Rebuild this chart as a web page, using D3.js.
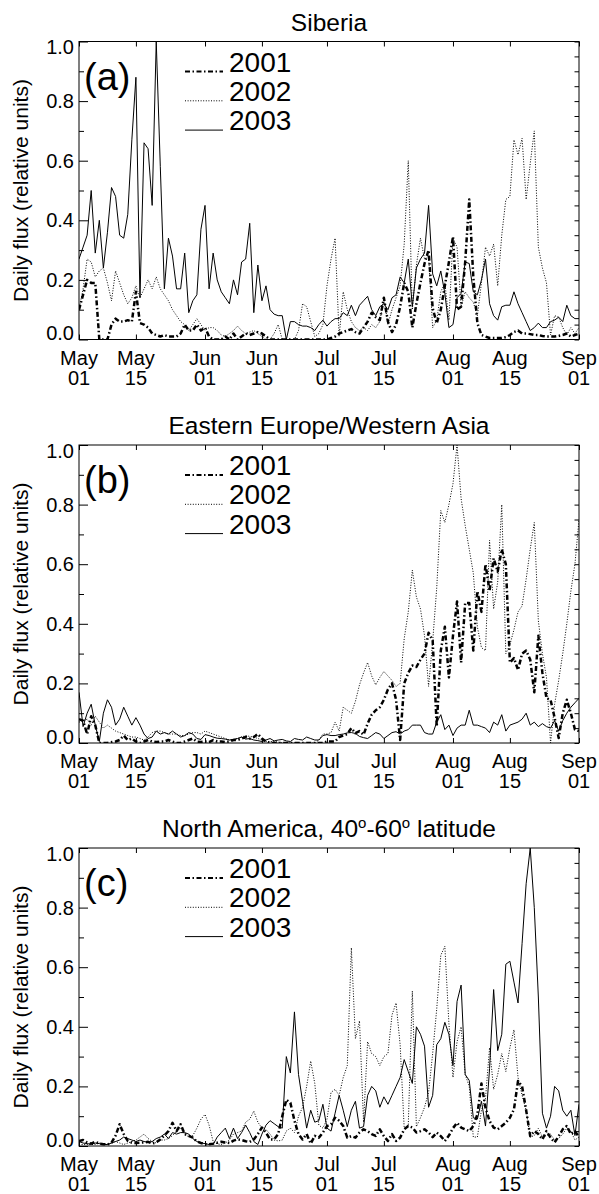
<!DOCTYPE html>
<html>
<head>
<meta charset="utf-8">
<script src="https://cdn.jsdelivr.net/npm/d3@7"></script>
<style>
  body { margin: 0; background: #fff; }
  text { font-family: "Liberation Sans", Arial, Helvetica, sans-serif; fill: #000; }
</style>
</head>
<body>
<svg id="chart" width="599" height="1194"></svg>
<script>

// ---- data: daily flux, May 01 .. Sep 01 (124 days) ----
var years = ['2001', '2002', '2003'];
var panelTags = ['(a)', '(b)', '(c)'];
var tickDates = ['2003-05-01', '2003-05-15', '2003-06-01', '2003-06-15', '2003-07-01',
                 '2003-07-15', '2003-08-01', '2003-08-15', '2003-09-01'];
var yMajor = [0, 0.2, 0.4, 0.6, 0.8, 1.0];
var yMinor = [0.1, 0.3, 0.5, 0.7, 0.9];

var siberia2001 = [0.10,0.15,0.20,0.19,0.19,0,0,0,0.05,0.07,
  0.06,0.06,0.065,0.06,0.16,0.055,0.05,0.04,0.02,0.015,
  0.01,0.015,0.01,0.01,0.01,0.02,0.05,0.03,0.03,0.05,
  0.03,0.04,0.01,0,0,0,0.01,0,0.02,0,
  0.01,0.02,0.015,0.02,0.025,0.02,0.01,0,0,0,
  0,0,0,0,0,0,0,0,0,0,
  0,0,0.005,0.01,0.02,0.025,0.03,0.035,0.025,0.02,
  0.04,0.06,0.09,0.075,0.065,0.14,0.06,0.025,0.05,0.11,
  0.19,0.16,0.04,0.12,0.19,0.255,0.30,0.105,0.055,0.10,
  0.18,0.26,0.345,0.10,0.11,0.26,0.47,0.21,0.055,0.015,
  0.01,0.005,0.005,0.005,0.005,0.008,0.015,0.025,0.03,0.02,
  0.02,0.018,0.015,0.015,0.012,0.01,0.01,0.01,0.012,0.015,
  0.02,0.01,0.015,0.02];
var siberia2002 = [0.10,0.17,0.27,0.26,0.21,0.23,0.24,0.19,0.13,0.23,
  0.19,0.15,0.12,0.14,0.18,0.14,0.17,0.20,0.17,0.21,
  0.17,0.15,0.13,0.10,0.08,0.06,0.05,0.03,0.05,0.07,
  0.05,0.03,0.04,0.04,0.03,0.015,0.01,0.02,0.03,0.045,
  0.03,0.02,0.025,0.03,0.02,0.01,0,0,0.02,0.05,
  0,0,0,0,0.03,0.12,0.11,0.06,0.01,0.02,
  0.05,0.18,0.27,0.34,0.01,0.16,0.10,0.06,0.04,0.03,
  0.04,0.03,0.05,0.04,0.06,0.14,0.05,0.10,0.14,0.18,
  0.32,0.60,0.10,0.25,0.34,0.27,0.28,0.04,0.065,0.16,
  0.19,0.065,0.34,0.31,0.11,0.16,0.14,0.125,0.08,0.19,
  0.31,0.28,0.32,0.18,0.35,0.47,0.48,0.67,0.62,0.675,
  0.47,0.59,0.70,0.31,0.24,0.19,0.015,0.08,0.075,0.04,
  0.015,0.04,0.02,0.04];
var siberia2003 = [0.27,0.31,0.35,0.50,0.29,0.40,0.24,0.36,0.51,0.48,
  0.35,0.34,0.42,0.67,0.88,0.14,0.66,0.64,0.45,1.00,
  0.58,0.17,0.34,0.28,0.17,0.17,0.29,0.09,0.13,0.15,
  0.37,0.45,0.17,0.29,0.20,0.16,0.14,0.12,0.20,0.15,
  0.26,0.27,0.39,0.09,0.25,0.13,0.18,0.10,0.085,0.08,
  0.08,0.00,0.06,0.06,0.05,0.045,0.045,0.04,0.03,0.05,
  0.065,0.045,0.06,0.07,0.07,0.09,0.08,0.115,0.08,0.115,
  0.13,0.145,0.10,0.08,0.11,0.12,0.10,0.14,0.15,0.21,
  0.19,0.27,0.11,0.24,0.27,0.29,0.45,0.22,0.18,0.23,
  0.155,0.04,0.05,0.14,0.155,0.26,0.255,0.16,0.15,0.20,
  0.27,0.12,0.08,0.065,0.11,0.115,0.115,0.16,0.12,0.09,
  0.06,0.03,0.04,0.055,0.04,0.04,0.06,0.065,0.075,0.06,
  0.115,0.08,0.07,0.07];

var europe2001 = [0.08,0.075,0.03,0.09,0.06,0,0,0,0.003,0.005,
  0.01,0.025,0.01,0.015,0.005,0,0.005,0.01,0.005,0.003,
  0.005,0.005,0.01,0.005,0,0,0.005,0.01,0.015,0.005,
  0.003,0.005,0.003,0.01,0.005,0.005,0.003,0.005,0.01,0.01,
  0.015,0.02,0.015,0.02,0.03,0.015,0.005,0,0,0,
  0,0,0,0,0,0,0,0,0,0,
  0,0.005,0.005,0.005,0.02,0.025,0.03,0.05,0.033,0.04,
  0.028,0.065,0.095,0.11,0.12,0.145,0.18,0.20,0.145,0.01,
  0.20,0.235,0.26,0.255,0.28,0.30,0.37,0.345,0.055,0.31,
  0.39,0.22,0.36,0.475,0.27,0.47,0.47,0.31,0.51,0.44,
  0.60,0.51,0.62,0.575,0.65,0.60,0.27,0.285,0.245,0.30,
  0.31,0.28,0.17,0.36,0.235,0.15,0.145,0.085,0.017,0.10,
  0.145,0.10,0.045,0.04];
var europe2002 = [0.07,0.075,0.08,0.06,0.09,0.07,0.05,0.06,0.05,0.04,
  0.035,0.03,0.025,0.02,0.02,0.015,0.01,0.02,0.035,0.04,
  0.04,0.035,0.03,0.03,0.03,0.025,0.025,0.03,0.035,0.035,
  0.03,0.04,0.035,0.03,0.025,0.02,0.015,0.01,0.012,0.015,
  0.02,0.025,0.022,0.02,0.015,0.01,0.005,0.005,0.005,0.003,
  0,0,0,0,0,0,0,0,0,0.01,
  0.03,0.03,0.035,0.07,0.04,0.12,0.11,0.10,0.14,0.195,
  0.235,0.27,0.225,0.195,0.22,0.24,0.225,0.21,0.19,0.20,
  0.35,0.44,0.58,0.49,0.45,0.36,0.19,0.34,0.52,0.78,
  0.74,0.80,0.87,1.0,0.82,0.73,0.65,0.57,0.39,0.32,
  0.31,0.68,0.45,0.54,0.80,0.30,0.33,0.38,0.44,0.46,
  0.55,0.65,0.74,0.41,0.30,0.22,0,0.13,0.21,0.30,
  0.40,0.51,0.60,0.75];
var europe2003 = [0.17,0.055,0.10,0.13,0.06,0.005,0.10,0.145,0.12,0.06,
  0.08,0.12,0.09,0.06,0.085,0.06,0.03,0.015,0.02,0.04,
  0.03,0.035,0.03,0.04,0.03,0.02,0.025,0.035,0.03,0.015,
  0.012,0.028,0.025,0.02,0.016,0.015,0.013,0.01,0.012,0.015,
  0.02,0.013,0.015,0.01,0.008,0.005,0.01,0.015,0.007,0.01,
  0.012,0.007,0.005,0.015,0.012,0.01,0.02,0.015,0.01,0.01,
  0.025,0.028,0.025,0.025,0.028,0.03,0.034,0.035,0.032,0.022,
  0.018,0.015,0.025,0.035,0.03,0.015,0.025,0.035,0.038,0.03,
  0.04,0.045,0.06,0.06,0.06,0.035,0.03,0.03,0.07,0.095,
  0.045,0.06,0.025,0.05,0.06,0.06,0.11,0.06,0.06,0.055,
  0.05,0.035,0.07,0.06,0.095,0.04,0.06,0.065,0.07,0.08,
  0.10,0.06,0.07,0.055,0.065,0.055,0.05,0.075,0.04,0.075,
  0.10,0.12,0.135,0.15];

var america2001 = [0.017,0.02,0.012,0.008,0.014,0.008,0.006,0.005,0.011,0.035,
  0.073,0.04,0.017,0.011,0.01,0.011,0.012,0.014,0.008,0.012,
  0.022,0.035,0.05,0.078,0.05,0.073,0.04,0.034,0.028,0.015,
  0.01,0.006,0.006,0.008,0.011,0.014,0.012,0.01,0.018,0.022,
  0.02,0.016,0.014,0.022,0.04,0.062,0.045,0.022,0.022,0.04,
  0.10,0.155,0.145,0.085,0.04,0.022,0.04,0.008,0.034,0.028,
  0.045,0.067,0.073,0.095,0.085,0.067,0.028,0.033,0.028,0.045,
  0.056,0.05,0.04,0.034,0.056,0.033,0.017,0.04,0.017,0.028,
  0.056,0.067,0.062,0.045,0.05,0.056,0.045,0.03,0.045,0.033,
  0.017,0.035,0.06,0.078,0.062,0.056,0.05,0.067,0.106,0.21,
  0.128,0.084,0.062,0.056,0.067,0.078,0.095,0.123,0.218,0.20,
  0.12,0.033,0.05,0.04,0.022,0.05,0.028,0.012,0.033,0.056,
  0.067,0.04,0.05,0.03];
var america2002 = [0.005,0.005,0.005,0.005,0.005,0.01,0.008,0.005,0.01,0.015,
  0.01,0.005,0.01,0.015,0.02,0.03,0.04,0.025,0.015,0.01,
  0.02,0.02,0.025,0.035,0.05,0.06,0.04,0.03,0.035,0.06,
  0.09,0.106,0.07,0.015,0.007,0.005,0.01,0.02,0.04,0.045,
  0.05,0.08,0.09,0.117,0.08,0.06,0.055,0.04,0.02,0.017,
  0.02,0.05,0.06,0.045,0.10,0.13,0.20,0.285,0.21,0.07,
  0.06,0.09,0.18,0.19,0.17,0.23,0.27,0.665,0.36,0.42,
  0.08,0.35,0.31,0.30,0.27,0.30,0.31,0.44,0.48,0.34,
  0.06,0.07,0.52,0.065,0.095,0.13,0.18,0.31,0.46,0.64,
  0.67,0.41,0.23,0.35,0.40,0.24,0.20,0.03,0.03,0.12,
  0.16,0.33,0.19,0.24,0.31,0.25,0.33,0.39,0.23,0.17,
  0.12,0.03,0.035,0.06,0.03,0.035,0.04,0.02,0.025,0.04,
  0.06,0.05,0.02,0.03];
var america2003 = [0.015,0.01,0.008,0.006,0.01,0.008,0.005,0.005,0.01,0.015,
  0.02,0.03,0.025,0.02,0.015,0.02,0.015,0.012,0.015,0.025,
  0.03,0.04,0.025,0.045,0.04,0.045,0.045,0.04,0.025,0.015,
  0.01,0.008,0.005,0.005,0.03,0.045,0.06,0.025,0.06,0.025,
  0.045,0.07,0.045,0.015,0.005,0.04,0.07,0.085,0.075,0.065,
  0.06,0.30,0.245,0.45,0.24,0.15,0.06,0.12,0.08,0.085,
  0.14,0.06,0.05,0.11,0.17,0.12,0.065,0.12,0.15,0.06,
  0.065,0.17,0.20,0.185,0.13,0.165,0.14,0.17,0.20,0.23,
  0.29,0.25,0.21,0.40,0.375,0.335,0.13,0.17,0.34,0.36,
  0.415,0.375,0.27,0.485,0.54,0.24,0.22,0.095,0.09,0.15,
  0.067,0.26,0.525,0.32,0.375,0.61,0.62,0.55,0.48,0.68,
  0.88,1.0,0.80,0.50,0.11,0.06,0.10,0.20,0.185,0.12,
  0.10,0.12,0.035,0.14];

var panels = [
  { title: 'Siberia', series: [siberia2001, siberia2002, siberia2003] },
  { title: 'Eastern Europe/Western Asia', series: [europe2001, europe2002, europe2003] },
  { title: 'North America, 40o-60o latitude', series: [america2001, america2002, america2003] }
];

// ---- layout ----
var left = 79, right = 579, plotH = 298;
var panelTop = [41.5, 445, 848];
var styles = [
  { width: 2.5, dash: '5,2.5,1.5,2.5' },
  { width: 1, dash: '1,1.6' },
  { width: 1, dash: null }
];

var svg = d3.select('#chart');
var parseDay = d3.utcParse('%Y-%m-%d');
var start = parseDay(tickDates[0]);
var days = d3.range(siberia2001.length).map(function(i){ return d3.utcDay.offset(start, i); });
var ticks = tickDates.map(parseDay);

var x = d3.scaleUtc()
          .domain([start, ticks[ticks.length - 1]])
          .range([left, right]);

panels.forEach(function(p, pi){
  var top = panelTop[pi], bottom = top + plotH;
  var y = d3.scaleLinear().domain([0, 1]).range([bottom, top]);
  var g = svg.append('g');

  g.append('clipPath').attr('id', 'clip' + pi)
    .append('rect').attr('x', left).attr('y', top).attr('width', right - left).attr('height', plotH);

  // series
  var line = d3.line()
      .x(function(d, i){ return x(days[i]); })
      .y(function(d){ return y(d); });

  p.series.forEach(function(s, si){
    g.append('path')
      .datum(s)
      .attr('clip-path', 'url(#clip' + pi + ')')
      .attr('fill', 'none')
      .attr('stroke', '#000')
      .attr('stroke-width', styles[si].width)
      .attr('stroke-dasharray', styles[si].dash)
      .attr('stroke-linejoin', 'round')
      .attr('d', line);
  });

  // axes (ticks point inward)
  var axB = g.append('g').attr('transform', 'translate(0,' + bottom + ')')
      .call(d3.axisBottom(x).tickValues(ticks).tickSize(-5).tickFormat(''));
  var axT = g.append('g').attr('transform', 'translate(0,' + top + ')')
      .call(d3.axisTop(x).tickValues(ticks).tickSize(-5).tickFormat(''));
  var axL = g.append('g').attr('transform', 'translate(' + left + ',0)')
      .call(d3.axisLeft(y).tickValues(yMajor).tickSize(-9).tickPadding(5).tickFormat(d3.format('.1f')));
  var axLm = g.append('g').attr('transform', 'translate(' + left + ',0)')
      .call(d3.axisLeft(y).tickValues(yMinor).tickSize(-5).tickFormat(''));
  var axR = g.append('g').attr('transform', 'translate(' + right + ',0)')
      .call(d3.axisRight(y).tickValues(d3.range(0, 1.0001, 0.05)).tickSize(-4.5).tickFormat(''));

  [axB, axT, axL, axLm, axR].forEach(function(a){
    a.select('.domain').remove();
    a.selectAll('line').attr('stroke', '#000');
  });

  axL.selectAll('text')
    .attr('font-size', 20)
    .attr('font-family', null)
    .attr('y', function(d){ return d === 0 ? -6 : (d === 1 ? 6 : 0); });

  // two-line date labels
  var fmtMon = d3.utcFormat('%b'), fmtDay = d3.utcFormat('%d');
  var lab = g.append('g').attr('font-size', 20).attr('text-anchor', 'middle');
  ticks.forEach(function(t){
    var tx = lab.append('text').attr('x', x(t)).attr('y', bottom + 25);
    tx.append('tspan').attr('x', x(t)).text(fmtMon(t));
    tx.append('tspan').attr('x', x(t)).attr('dy', 20).text(fmtDay(t));
  });

  // frame
  g.append('rect')
    .attr('x', left).attr('y', top)
    .attr('width', right - left).attr('height', plotH)
    .attr('fill', 'none').attr('stroke', '#000').attr('stroke-width', 1);

  // title
  var title = g.append('text')
    .attr('x', (left + right) / 2).attr('y', top - 11)
    .attr('text-anchor', 'middle').attr('font-size', 24.5);
  if (pi === 2) {
    title.append('tspan').text('North America, 40');
    title.append('tspan').attr('font-size', 15).attr('dy', -9).text('o');
    title.append('tspan').attr('dy', 9).text('-60');
    title.append('tspan').attr('font-size', 15).attr('dy', -9).text('o');
    title.append('tspan').attr('dy', 9).text(' latitude');
  } else {
    title.text(p.title);
  }

  // y-axis title
  g.append('text')
    .attr('transform', 'translate(28,' + (top + plotH / 2) + ') rotate(-90)')
    .attr('text-anchor', 'middle').attr('font-size', 21)
    .text('Daily flux (relative units)');

  // panel tag
  g.append('text')
    .attr('x', 84).attr('y', top + 48)
    .attr('font-size', 38)
    .text(panelTags[pi]);

  // legend
  years.forEach(function(yr, k){
    var ly = top + 30 + k * 29.3;
    g.append('line')
      .attr('x1', 185).attr('x2', 223).attr('y1', ly).attr('y2', ly)
      .attr('stroke', '#000')
      .attr('stroke-width', styles[k].width === 1 ? 1 : 2)
      .attr('stroke-dasharray', styles[k].dash);
    g.append('text')
      .attr('x', 229).attr('y', ly)
      .attr('font-size', 28)
      .text(yr);
  });
});

</script>
</body>
</html>
